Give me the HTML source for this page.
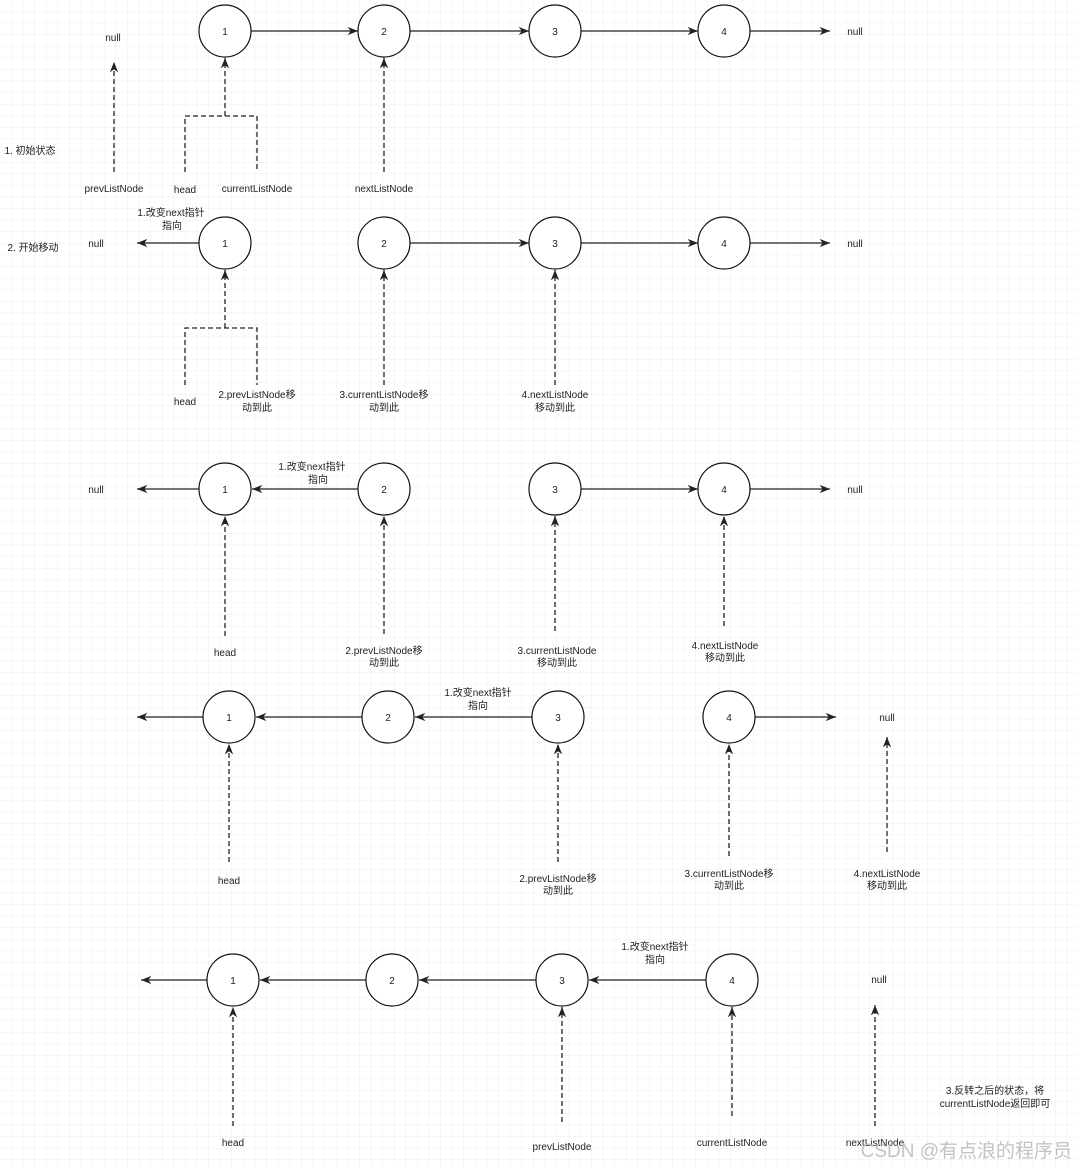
<!DOCTYPE html>
<html><head><meta charset="utf-8"><style>
html,body{margin:0;padding:0;background:#fff;}
svg{display:block;}
text{font-family:"Liberation Sans","Noto Sans CJK SC",sans-serif;font-size:10px;fill:#222;text-anchor:middle;}
.c{fill:#fff;stroke:#111;stroke-width:1.2;}
.l{stroke:#222;stroke-width:1.3;fill:none;}
.d{stroke:#222;stroke-width:1.3;fill:none;stroke-dasharray:5,3;}
</style></head><body>
<svg width="1077" height="1167" xmlns="http://www.w3.org/2000/svg">
<defs>
<pattern id="g" width="11.6" height="11.6" patternUnits="userSpaceOnUse"><path d="M11.6 0V11.6H0" fill="none" stroke="#ececec" stroke-width="1"/></pattern>
<marker id="a" viewBox="0 0 10 10" refX="10" refY="5" markerWidth="8" markerHeight="8" orient="auto"><path d="M0 1L10 5L0 9L3 5Z" fill="#222"/></marker>
</defs>
<rect width="1077" height="1167" fill="url(#g)"/>

<!-- Row 1 -->
<g>
<line class="l" x1="251" y1="31" x2="358" y2="31" marker-end="url(#a)"/>
<line class="l" x1="410" y1="31" x2="529" y2="31" marker-end="url(#a)"/>
<line class="l" x1="581" y1="31" x2="698" y2="31" marker-end="url(#a)"/>
<line class="l" x1="750" y1="31" x2="830" y2="31" marker-end="url(#a)"/>
<circle class="c" cx="225" cy="31" r="26"/><text x="225" y="35">1</text>
<circle class="c" cx="384" cy="31" r="26"/><text x="384" y="35">2</text>
<circle class="c" cx="555" cy="31" r="26"/><text x="555" y="35">3</text>
<circle class="c" cx="724" cy="31" r="26"/><text x="724" y="35">4</text>
<text x="855" y="35">null</text>
<text x="113" y="41">null</text>
<line class="d" x1="114" y1="172" x2="114" y2="62" marker-end="url(#a)"/>
<path class="d" d="M185 172V116H257V172"/>
<line class="d" x1="225" y1="116" x2="225" y2="58" marker-end="url(#a)"/>
<line class="d" x1="384" y1="172" x2="384" y2="58" marker-end="url(#a)"/>
<text x="114" y="192">prevListNode</text>
<text x="185" y="193">head</text>
<text x="257" y="192">currentListNode</text>
<text x="384" y="192">nextListNode</text>
<text x="30" y="154">1. 初始状态</text>
</g>

<!-- Row 2 -->
<g>
<line class="l" x1="199" y1="243" x2="137" y2="243" marker-end="url(#a)"/>
<line class="l" x1="410" y1="243" x2="529" y2="243" marker-end="url(#a)"/>
<line class="l" x1="581" y1="243" x2="698" y2="243" marker-end="url(#a)"/>
<line class="l" x1="750" y1="243" x2="830" y2="243" marker-end="url(#a)"/>
<circle class="c" cx="225" cy="243" r="26"/><text x="225" y="247">1</text>
<circle class="c" cx="384" cy="243" r="26"/><text x="384" y="247">2</text>
<circle class="c" cx="555" cy="243" r="26"/><text x="555" y="247">3</text>
<circle class="c" cx="724" cy="243" r="26"/><text x="724" y="247">4</text>
<text x="855" y="247">null</text>
<text x="96" y="247">null</text>
<text x="171" y="216">1.改变next指针</text><text x="172" y="229">指向</text>
<text x="33" y="251">2. 开始移动</text>
<path class="d" d="M185 385V328H257V385"/>
<line class="d" x1="225" y1="328" x2="225" y2="270" marker-end="url(#a)"/>
<line class="d" x1="384" y1="385" x2="384" y2="270" marker-end="url(#a)"/>
<line class="d" x1="555" y1="385" x2="555" y2="270" marker-end="url(#a)"/>
<text x="185" y="405">head</text>
<text x="257" y="398">2.prevListNode移</text><text x="257" y="411">动到此</text>
<text x="384" y="398">3.currentListNode移</text><text x="384" y="411">动到此</text>
<text x="555" y="398">4.nextListNode</text><text x="555" y="411">移动到此</text>
</g>

<!-- Row 3 -->
<g>
<line class="l" x1="199" y1="489" x2="137" y2="489" marker-end="url(#a)"/>
<line class="l" x1="358" y1="489" x2="252" y2="489" marker-end="url(#a)"/>
<line class="l" x1="581" y1="489" x2="698" y2="489" marker-end="url(#a)"/>
<line class="l" x1="750" y1="489" x2="830" y2="489" marker-end="url(#a)"/>
<circle class="c" cx="225" cy="489" r="26"/><text x="225" y="493">1</text>
<circle class="c" cx="384" cy="489" r="26"/><text x="384" y="493">2</text>
<circle class="c" cx="555" cy="489" r="26"/><text x="555" y="493">3</text>
<circle class="c" cx="724" cy="489" r="26"/><text x="724" y="493">4</text>
<text x="96" y="493">null</text>
<text x="855" y="493">null</text>
<text x="312" y="470">1.改变next指针</text><text x="318" y="483">指向</text>
<line class="d" x1="225" y1="636" x2="225" y2="516" marker-end="url(#a)"/>
<line class="d" x1="384" y1="634" x2="384" y2="516" marker-end="url(#a)"/>
<line class="d" x1="555" y1="631" x2="555" y2="516" marker-end="url(#a)"/>
<line class="d" x1="724" y1="626" x2="724" y2="516" marker-end="url(#a)"/>
<text x="225" y="656">head</text>
<text x="384" y="654">2.prevListNode移</text><text x="384" y="666">动到此</text>
<text x="557" y="654">3.currentListNode</text><text x="557" y="666">移动到此</text>
<text x="725" y="649">4.nextListNode</text><text x="725" y="661">移动到此</text>
</g>

<!-- Row 4 -->
<g>
<line class="l" x1="203" y1="717" x2="137" y2="717" marker-end="url(#a)"/>
<line class="l" x1="362" y1="717" x2="256" y2="717" marker-end="url(#a)"/>
<line class="l" x1="532" y1="717" x2="415" y2="717" marker-end="url(#a)"/>
<line class="l" x1="755" y1="717" x2="836" y2="717" marker-end="url(#a)"/>
<circle class="c" cx="229" cy="717" r="26"/><text x="229" y="721">1</text>
<circle class="c" cx="388" cy="717" r="26"/><text x="388" y="721">2</text>
<circle class="c" cx="558" cy="717" r="26"/><text x="558" y="721">3</text>
<circle class="c" cx="729" cy="717" r="26"/><text x="729" y="721">4</text>
<text x="887" y="721">null</text>
<text x="478" y="696">1.改变next指针</text><text x="478" y="709">指向</text>
<line class="d" x1="229" y1="862" x2="229" y2="744" marker-end="url(#a)"/>
<line class="d" x1="558" y1="862" x2="558" y2="744" marker-end="url(#a)"/>
<line class="d" x1="729" y1="856" x2="729" y2="744" marker-end="url(#a)"/>
<line class="d" x1="887" y1="852" x2="887" y2="737" marker-end="url(#a)"/>
<text x="229" y="884">head</text>
<text x="558" y="882">2.prevListNode移</text><text x="558" y="894">动到此</text>
<text x="729" y="877">3.currentListNode移</text><text x="729" y="889">动到此</text>
<text x="887" y="877">4.nextListNode</text><text x="887" y="889">移动到此</text>
</g>

<!-- Row 5 -->
<g>
<line class="l" x1="207" y1="980" x2="141" y2="980" marker-end="url(#a)"/>
<line class="l" x1="366" y1="980" x2="260" y2="980" marker-end="url(#a)"/>
<line class="l" x1="536" y1="980" x2="419" y2="980" marker-end="url(#a)"/>
<line class="l" x1="706" y1="980" x2="589" y2="980" marker-end="url(#a)"/>
<circle class="c" cx="233" cy="980" r="26"/><text x="233" y="984">1</text>
<circle class="c" cx="392" cy="980" r="26"/><text x="392" y="984">2</text>
<circle class="c" cx="562" cy="980" r="26"/><text x="562" y="984">3</text>
<circle class="c" cx="732" cy="980" r="26"/><text x="732" y="984">4</text>
<text x="879" y="983">null</text>
<text x="655" y="950">1.改变next指针</text><text x="655" y="963">指向</text>
<line class="d" x1="233" y1="1126" x2="233" y2="1007" marker-end="url(#a)"/>
<line class="d" x1="562" y1="1122" x2="562" y2="1007" marker-end="url(#a)"/>
<line class="d" x1="732" y1="1116" x2="732" y2="1007" marker-end="url(#a)"/>
<line class="d" x1="875" y1="1126" x2="875" y2="1005" marker-end="url(#a)"/>
<text x="233" y="1146">head</text>
<text x="562" y="1150">prevListNode</text>
<text x="732" y="1146">currentListNode</text>
<text x="875" y="1146">nextListNode</text>
<text x="995" y="1094">3.反转之后的状态，将</text>
<text x="995" y="1107">currentListNode返回即可</text>
</g>

<text x="1072" y="1157" style="font-size:19px;fill:#bdbdbd;fill-opacity:0.9;text-anchor:end">CSDN @有点浪的程序员</text>
</svg>
</body></html>
